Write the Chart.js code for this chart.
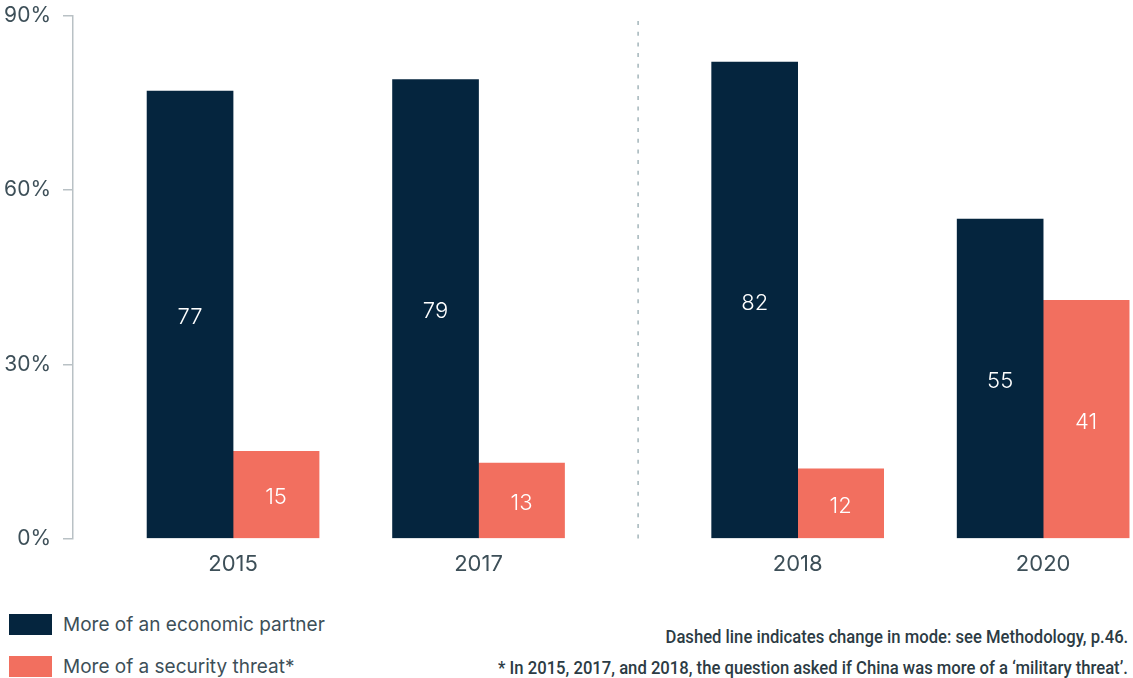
<!DOCTYPE html>
<html>
<head>
<meta charset="utf-8">
<script src="https://cdn.jsdelivr.net/npm/chart.js@4"></script>
<style>
  body { margin: 0; background: #fff; font-family: Inter, "Noto Sans", sans-serif; }
  #wrap { position: relative; width: 1133px; height: 678px; overflow: hidden; }
  #chart-box { position: absolute; left: 0; top: -9px; width: 1133px; height: 592px; }
  .legend-item { position: absolute; left: 9px; display: flex; align-items: center; font-size: 19px; color: #3d4f58; }
  .legend-item span.box { display: inline-block; width: 43px; height: 21px; margin-right: 11px; }
  .note { position: absolute; right: 5px; white-space: nowrap; font-family: Roboto, sans-serif; font-weight: 500;
          font-size: 18px; color: #2c3b44; transform: scaleX(0.925); transform-origin: right center; }
</style>
</head>
<body>
<div id="wrap">
  <div id="chart-box"><canvas id="mainChart"></canvas></div>
  <div id="legend"></div>
  <div class="note" style="top:626px">Dashed line indicates change in mode: see Methodology, p.46.</div>
  <div class="note" style="top:657px">* In 2015, 2017, and 2018, the question asked if China was more of a ‘military threat’.</div>
</div>
<script>
// --- Data ---
const years = ['2015', '2017', '2018', '2020'];
const economicPartner = [77, 79, 82, 55];
const securityThreat = [15, 13, 12, 41];
const yTicks = [0, 30, 60, 90];

// --- Layout (group centres on a linear x scale, gap before 2018 for the mode change) ---
const slots = [0, 1, 2.3, 3.3];
const xMin = -0.652;
const xMax = 3.666;

const NAVY = '#05253e';
const CORAL = '#f26f5f';
const TEXT = '#3d4f58';
const AXIS = '#b9c1c5';

const toPoints = vals => vals.map((v, i) => ({ x: slots[i], y: v }));

const datasets = [
    { label: 'More of an economic partner', data: toPoints(economicPartner), backgroundColor: NAVY },
    { label: 'More of a security threat*', data: toPoints(securityThreat), backgroundColor: CORAL }
];

// values inside bars
const barLabels = {
    id: 'barLabels',
    afterDatasetsDraw(chart) {
        const ctx = chart.ctx;
        ctx.save();
        ctx.fillStyle = '#ffffff';
        ctx.font = '300 22px Inter, sans-serif';
        ctx.textAlign = 'center';
        ctx.textBaseline = 'middle';
        chart.data.datasets.forEach((ds, di) => {
            chart.getDatasetMeta(di).data.forEach((bar, i) => {
                ctx.fillText(ds.data[i].y, bar.x, (bar.y + bar.base) / 2 + 3);
            });
        });
        ctx.restore();
    }
};

// dashed divider between 2017 and 2018
const modeDivider = {
    id: 'modeDivider',
    beforeDatasetsDraw(chart) {
        const ctx = chart.ctx;
        const x = chart.scales.x.getPixelForValue((slots[1] + slots[2]) / 2);
        ctx.save();
        ctx.strokeStyle = '#a3b5ba';
        ctx.lineWidth = 1.5;
        ctx.setLineDash([4, 6.7]);
        ctx.beginPath();
        ctx.moveTo(x, 30);
        ctx.lineTo(x, chart.chartArea.bottom);
        ctx.stroke();
        ctx.restore();
    }
};

new Chart(document.getElementById('mainChart').getContext('2d'), {
    type: 'bar',
    data: { datasets },
    options: {
        responsive: true,
        maintainAspectRatio: false,
        animation: false,
        barThickness: 86,
        layout: { padding: { top: 3, right: 0, bottom: 0, left: 0 } },
        plugins: {
            legend: { display: false },
            tooltip: { enabled: false }
        },
        scales: {
            x: {
                type: 'linear',
                offset: false,
                min: xMin,
                max: xMax,
                grid: { display: false },
                border: { display: false },
                afterBuildTicks: scale => { scale.ticks = slots.map(v => ({ value: v })); },
                ticks: {
                    autoSkip: false,
                    maxRotation: 0,
                    padding: 5,
                    color: TEXT,
                    font: { family: 'Inter', size: 22 },
                    callback: v => years[slots.indexOf(v)]
                }
            },
            y: {
                min: 0,
                max: 90,
                afterBuildTicks: scale => { scale.ticks = yTicks.map(v => ({ value: v })); },
                afterFit: scale => { scale.width = 73; },
                grid: { drawOnChartArea: false, drawTicks: true, tickLength: 10, color: AXIS, lineWidth: 1.5 },
                border: { display: true, color: AXIS, width: 1.5 },
                ticks: {
                    padding: 12,
                    color: TEXT,
                    font: { family: 'Inter', size: 21 },
                    callback: v => v + '%'
                }
            }
        }
    },
    plugins: [barLabels, modeDivider]
});

// HTML legend built from the datasets
const legend = document.getElementById('legend');
datasets.forEach((ds, i) => {
    const item = document.createElement('div');
    item.className = 'legend-item';
    item.style.top = (i === 0 ? 613 : 655) + 'px';
    item.innerHTML = '<span class="box" style="background:' + ds.backgroundColor + '"></span>' + ds.label;
    legend.appendChild(item);
});
</script>
</body>
</html>
